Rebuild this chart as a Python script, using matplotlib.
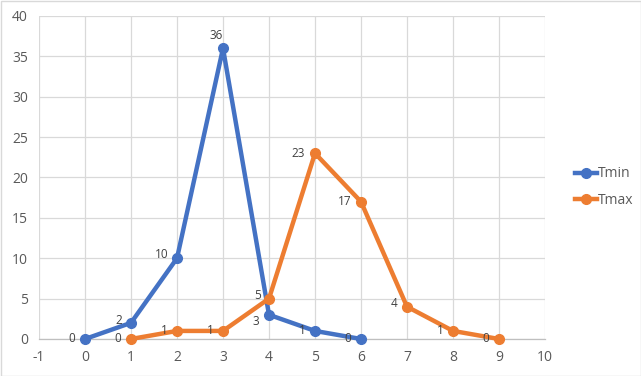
import matplotlib
matplotlib.use("Agg")
import matplotlib.pyplot as plt
from matplotlib.lines import Line2D
from matplotlib.patches import Rectangle

tmin_x = [0, 1, 2, 3, 4, 5, 6]
tmin_y = [0, 2, 10, 36, 3, 1, 0]
tmax_x = [1, 2, 3, 4, 5, 6, 7, 8, 9]
tmax_y = [0, 1, 1, 5, 23, 17, 4, 1, 0]
xticks = list(range(-1, 11))
yticks = list(range(0, 41, 5))

# label offsets (points) per point
tmin_off = [(-7, 0), (-6, 2), (-6, 3), (-5, 9), (-7, -5), (-7, 0), (-7, 0)]
tmax_off = [(-7, 0), (-7, 0), (-7, 0), (-6, 2), (-7, 0), (-7, 0), (-7, 2), (-7, 0), (-7, 0)]

plt.rcParams['font.family'] = ['Open Sans', 'DejaVu Sans']
plt.rcParams['axes.unicode_minus'] = False
blue = '#4472C4'
orange = '#ED7D31'

fig = plt.figure(figsize=(6.41, 3.76), dpi=100)
ax = fig.add_axes([39/641, 1-339/376, (545-39)/641, (339-16)/376])
ax.set_xlim(-1, 10)
ax.set_ylim(0, 40)
ax.set_xticks(xticks)
ax.set_yticks(yticks)
ax.grid(True, color='#D9D9D9', linewidth=0.9)
ax.set_axisbelow(True)
for s in ['top', 'right', 'left']:
    ax.spines[s].set_visible(False)
ax.spines['bottom'].set_color('#BFBFBF')
ax.spines['bottom'].set_linewidth(0.9)
ax.tick_params(length=0, labelsize=10, colors='#595959', pad=8)

ax.plot(tmin_x, tmin_y, color=blue, lw=3.2, marker='o', ms=7, zorder=3, label='Tmin', clip_on=False)
ax.plot(tmax_x, tmax_y, color=orange, lw=3.2, marker='o', ms=7, zorder=3, label='Tmax', clip_on=False)

for x, y, o in zip(tmin_x, tmin_y, tmin_off):
    ha = 'center' if o[0] > -6 else 'right'
    ax.annotate(str(y), (x, y), xytext=o, textcoords='offset points', ha=ha, va='center',
                fontsize=8.5, color='#404040', zorder=4)
for x, y, o in zip(tmax_x, tmax_y, tmax_off):
    ax.annotate(str(y), (x, y), xytext=o, textcoords='offset points', ha='right', va='center',
                fontsize=8.5, color='#404040', zorder=4)

handles = [Line2D([], [], color=blue, lw=3.2, marker='o', ms=7),
           Line2D([], [], color=orange, lw=3.2, marker='o', ms=7)]
leg = fig.legend(handles, ['Tmin', 'Tmax'], loc='center left', bbox_to_anchor=(562/641, 1-187/376),
                 frameon=False, fontsize=10, handlelength=1.6, handletextpad=0.1, labelspacing=0.8)
for t in leg.get_texts():
    t.set_color('#595959')

fig.patches.append(Rectangle((0.5/641, 0.5/376), 1-1/641, 1-1/376, transform=fig.transFigure,
                             fill=False, edgecolor='#D9D9D9', lw=1))
fig.savefig('out.png', dpi=100)
